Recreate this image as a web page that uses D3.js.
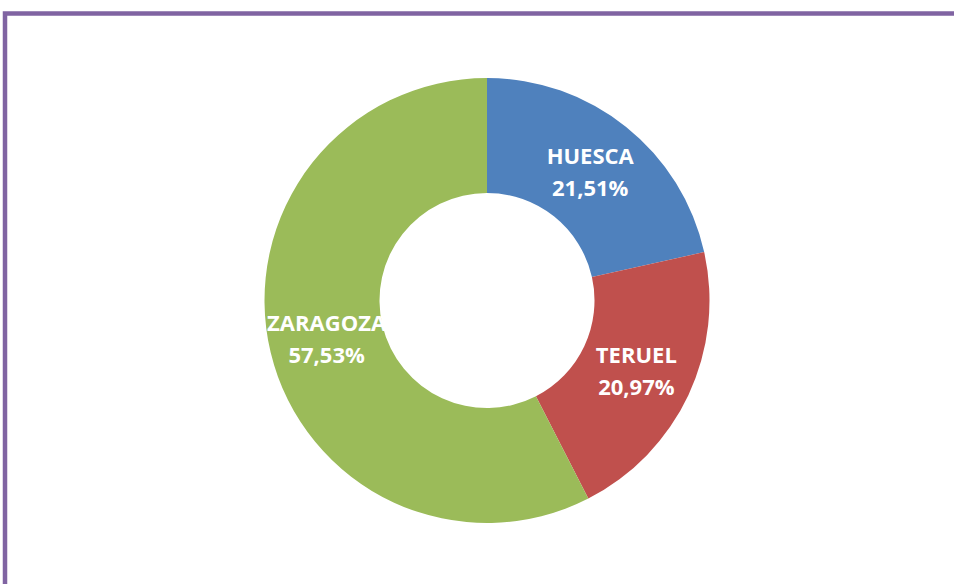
<!DOCTYPE html>
<html><head><meta charset="utf-8">
<script src="https://cdn.jsdelivr.net/npm/d3@7"></script>
<style>html,body{margin:0;padding:0;background:#fff;overflow:hidden}</style>
</head><body>
<svg id="c" width="954" height="584"></svg>
<script>
const categories = ["HUESCA", "TERUEL", "ZARAGOZA"];
const values = [21.51, 20.97, 57.53];
const labels = ["21,51%", "20,97%", "57,53%"];
const colors = ["#4f81bd", "#c0504d", "#9bbb59"];

const svg = d3.select("#c");
svg.append("rect").attr("x", 5).attr("y", 13.5).attr("width", 1000).attr("height", 700)
  .attr("fill", "#fff").attr("stroke", "#8064a2").attr("stroke-width", 4.5);

const cx = 487, cy = 300.5, R = 222.5, r = 107.5;
const pie = d3.pie().sort(null).value(d => d);
const arcs = pie(values);
const arc = d3.arc().innerRadius(r).outerRadius(R);
const g = svg.append("g").attr("transform", `translate(${cx},${cy})`);
g.selectAll("path").data(arcs).join("path")
  .attr("d", arc).attr("fill", (d, i) => colors[i]);

const labelArc = d3.arc().innerRadius((r + R) / 2).outerRadius((r + R) / 2);
const t = g.selectAll("text.l").data(arcs).join("text").attr("class", "l")
  .attr("transform", d => `translate(${labelArc.centroid(d)})`)
  .attr("text-anchor", "middle")
  .attr("fill", "#fff")
  .attr("font-family", "'Open Sans', sans-serif")
  .attr("font-weight", "bold")
  .attr("font-size", 22);
t.append("tspan").attr("x", 0).attr("y", -8).text((d, i) => categories[i]);
t.append("tspan").attr("x", 0).attr("y", 24).text((d, i) => labels[i]);
</script>
</body></html>
